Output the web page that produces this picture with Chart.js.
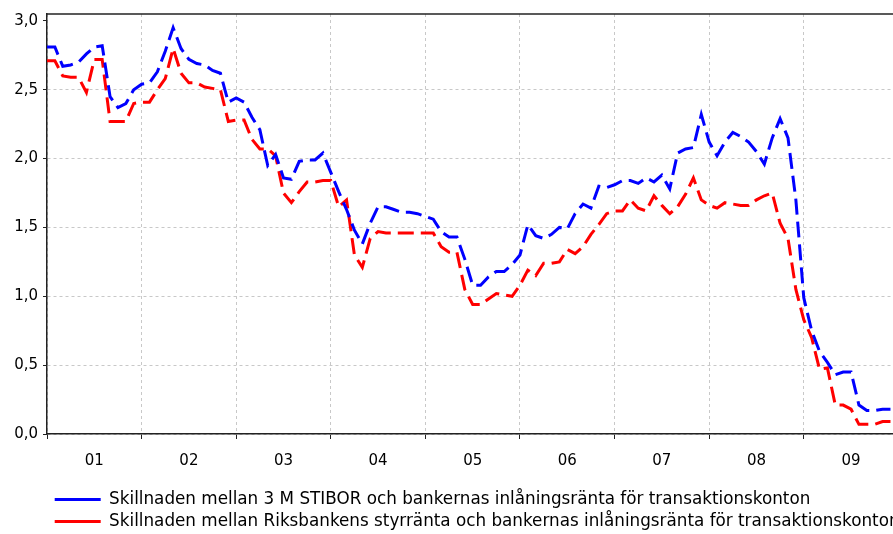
<!DOCTYPE html>
<html><head><meta charset="utf-8">
<script src="https://cdn.jsdelivr.net/npm/chart.js@4"></script>
<style>html,body{margin:0;padding:0;background:#fff;overflow:hidden;width:893px;height:534px;}canvas{display:block;}</style>
</head><body>
<canvas id="c" width="893" height="534"></canvas>
<script>
// Years covered (monthly observations, Jan 2001 - Dec 2009)
const years = [2001, 2002, 2003, 2004, 2005, 2006, 2007, 2008, 2009];
const yearLabels = ['01', '02', '03', '04', '05', '06', '07', '08', '09'];
const yTickValues = [0, 0.5, 1.0, 1.5, 2.0, 2.5, 3.0];

const seriesNames = [
  'Skillnaden mellan 3 M STIBOR och bankernas inlåningsränta för transaktionskonton',
  'Skillnaden mellan Riksbankens styrränta och bankernas inlåningsränta för transaktionskonton'
];

// Spread 3M STIBOR vs deposit rate (percentage points), monthly
const stiborSpread = [
  2.81, 2.81, 2.67, 2.68, 2.70, 2.76, 2.81, 2.82, 2.45, 2.37, 2.40, 2.50,
  2.54, 2.55, 2.63, 2.78, 2.95, 2.80, 2.72, 2.69, 2.68, 2.64, 2.62, 2.41,
  2.44, 2.41, 2.30, 2.21, 1.95, 2.03, 1.86, 1.85, 1.98, 1.99, 1.99, 2.04,
  1.90, 1.76, 1.63, 1.48, 1.38, 1.53, 1.65, 1.65, 1.63, 1.61, 1.61, 1.60,
  1.58, 1.56, 1.47, 1.43, 1.43, 1.27, 1.08, 1.08, 1.14, 1.18, 1.18, 1.23,
  1.30, 1.52, 1.44, 1.42, 1.45, 1.50, 1.49, 1.60, 1.67, 1.64, 1.80, 1.79,
  1.81, 1.84, 1.84, 1.82, 1.86, 1.83, 1.88, 1.78, 2.04, 2.07, 2.08, 2.32,
  2.12, 2.02, 2.12, 2.19, 2.16, 2.12, 2.05, 1.96, 2.15, 2.29, 2.15, 1.70,
  0.99, 0.75, 0.60, 0.52, 0.43, 0.45, 0.45, 0.21, 0.17, 0.17, 0.18, 0.18
];

// Spread Riksbank policy rate vs deposit rate (percentage points), monthly
const policySpread = [
  2.71, 2.71, 2.60, 2.59, 2.59, 2.48, 2.72, 2.72, 2.27, 2.27, 2.27, 2.40,
  2.41, 2.41, 2.50, 2.58, 2.80, 2.62, 2.55, 2.55, 2.52, 2.51, 2.50, 2.27,
  2.28, 2.28, 2.14, 2.07, 2.07, 2.02, 1.75, 1.68, 1.76, 1.83, 1.83, 1.84,
  1.84, 1.65, 1.70, 1.30, 1.21, 1.42, 1.47, 1.46, 1.46, 1.46, 1.46, 1.46,
  1.46, 1.46, 1.36, 1.32, 1.32, 1.05, 0.94, 0.94, 0.98, 1.02, 1.01, 1.00,
  1.08, 1.19, 1.15, 1.24, 1.24, 1.25, 1.34, 1.31, 1.36, 1.45, 1.52, 1.60,
  1.62, 1.62, 1.70, 1.64, 1.62, 1.73, 1.66, 1.60, 1.65, 1.74, 1.86, 1.70,
  1.66, 1.64, 1.68, 1.67, 1.66, 1.66, 1.70, 1.73, 1.75, 1.53, 1.42, 1.05,
  0.83, 0.70, 0.47, 0.48, 0.21, 0.21, 0.18, 0.07, 0.07, 0.07, 0.09, 0.09
];

// month index -> point objects (x = months since Jan 2001)
const toPoints = arr => arr.map((v, i) => ({ x: i, y: v }));
const yearStartIdx = years.map((y, i) => i * 12);

const tickFont = { family: 'DejaVu Sans', size: 15 };
const legendFont = { family: 'DejaVu Sans', size: 16.8 };

const frame = {
  id: 'frame',
  afterLayout(chart) {
    const lg = chart.legend;
    if (lg) { lg.left = 49.5; lg.top = 486; lg.right = chart.width; lg.bottom = chart.height; }
  },
  afterDraw(chart) {
    const { ctx, chartArea: a } = chart;
    ctx.save();
    ctx.strokeStyle = '#222';
    ctx.lineWidth = 1.5;
    ctx.beginPath();
    ctx.moveTo(a.left, a.top);
    ctx.lineTo(a.right, a.top);
    ctx.stroke();
    ctx.restore();
  }
};

new Chart(document.getElementById('c'), {
  type: 'line',
  data: {
    datasets: [
      { label: seriesNames[0], data: toPoints(stiborSpread), borderColor: '#0000ff', backgroundColor: '#0000ff',
        borderWidth: 3, borderDash: [16, 7], pointRadius: 0, tension: 0, fill: false },
      { label: seriesNames[1], data: toPoints(policySpread), borderColor: '#ff0000', backgroundColor: '#ff0000',
        borderWidth: 3, borderDash: [16, 7], pointRadius: 0, tension: 0, fill: false }
    ]
  },
  options: {
    responsive: false,
    animation: false,
    devicePixelRatio: 1,
    layout: { padding: { left: 0, right: 0, top: 13.5, bottom: 10 } },
    plugins: {
      tooltip: { enabled: false },
      legend: {
        position: 'bottom',
        align: 'start',
        labels: {
          usePointStyle: true,
          pointStyle: 'line',
          pointStyleWidth: 46,
          boxWidth: 46,
          padding: 5.2,
          color: '#000',
          font: legendFont
        }
      }
    },
    scales: {
      x: {
        type: 'linear',
        min: 0,
        max: 107.32,
        afterBuildTicks: s => { s.ticks = yearStartIdx.map(v => ({ value: v })); },
        afterFit: s => { s.height = 36; },
        ticks: {
          callback: (v, i) => yearLabels[i],
          labelOffset: 47.3,
          padding: 13,
          maxRotation: 0,
          autoSkip: false,
          color: '#000',
          font: tickFont
        },
        grid: { color: '#c8c8c8', lineWidth: 1, tickLength: 5, tickColor: '#222', tickWidth: 1, tickBorderDash: [] },
        border: { color: '#222', width: 1.5, dash: [3, 3] }
      },
      y: {
        min: 0,
        max: 3.05,
        afterBuildTicks: s => { s.ticks = yTickValues.map(v => ({ value: v })); },
        afterFit: s => { s.width = 47; },
        ticks: {
          callback: v => v.toFixed(1).replace('.', ','),
          padding: 5,
          color: '#000',
          font: tickFont
        },
        grid: {
          color: c => (c.tick && c.tick.value >= 3) ? 'rgba(0,0,0,0)' : '#c8c8c8',
          lineWidth: 1, tickLength: 4, tickColor: '#222', tickWidth: 1, tickBorderDash: []
        },
        border: { color: '#222', width: 1.5, dash: [3, 3] }
      }
    }
  },
  plugins: [frame]
});
</script>
</body></html>
